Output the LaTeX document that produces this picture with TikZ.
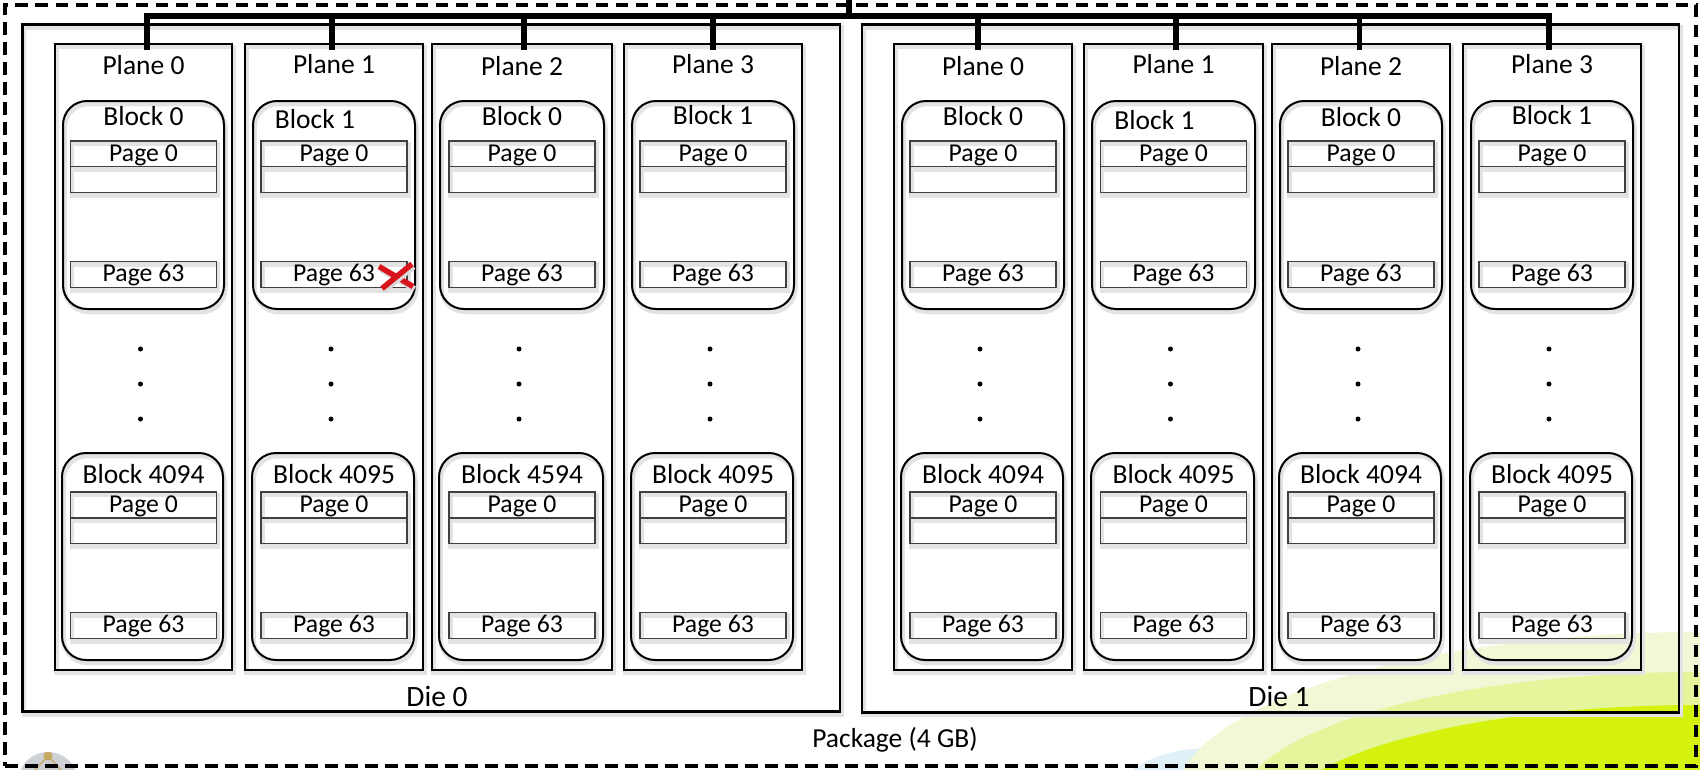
\documentclass[tikz,border=0pt]{standalone}
\usepackage{fontspec}
\setmainfont{Carlito}
\usetikzlibrary{calc}
\definecolor{palebg}{HTML}{F1F8D6}
\definecolor{midbg}{HTML}{E4F59C}
\definecolor{brightbg}{HTML}{D4F20E}
\definecolor{bluebg}{HTML}{E0F1F8}
\definecolor{logogray}{HTML}{CDD1D6}
\definecolor{logotan}{HTML}{C8A860}
\definecolor{xred}{HTML}{D8141C}
\tikzset{
  shd/.style={preaction={draw=black!11, line width=4.5pt, transform canvas={xshift=1.5pt,yshift=-3pt}}},
  pkgbox/.style={draw, line width=3.2pt, dash pattern=on 12.5pt off 7.5pt, anchor=north west, inner sep=0pt, outer sep=0pt},
  diebox/.style={draw, line width=2.8pt, shd, anchor=north west, inner sep=0pt, outer sep=0pt},
  planebox/.style={draw, line width=2.5pt, shd, anchor=north west, inner sep=0pt, outer sep=0pt, minimum height=626pt},
  blockbox/.style={draw, line width=2pt, rounded corners=24pt, shd, anchor=north west, inner sep=0pt, outer sep=0pt, minimum height=208pt},
  pagebox/.style={draw=black!75, line width=1.3pt, shd, inner sep=0pt, outer sep=0pt, minimum width=146pt, minimum height=25.8pt, text height=16.5pt, text depth=2pt, font=\fontsize{25.7pt}{30pt}\selectfont},
  lbl/.style={font=\fontsize{27.5pt}{33pt}\selectfont, anchor=base, inner sep=0pt},
  dielbl/.style={font=\fontsize{29.5pt}{35pt}\selectfont, anchor=base, inner sep=0pt},
  dotn/.style={circle, fill=black, inner sep=0pt, minimum size=5pt},
  bus/.style={line width=5.2pt, line cap=butt},
  redx/.style={draw=xred, line width=5.5pt, preaction={draw=black!15, line width=6pt, transform canvas={xshift=1.5pt,yshift=-2.5pt}}},
}
% #1 id, #2 left, #3 right, #4 plane label, #5 top block, #6 bottom block,
% #7 top-block label xshift, #8 plane label baseline, #9 top-block label baseline
\newcommand\mkplane[9]{%
  \pgfmathsetmacro\pcx{(#2+#3)/2}%
  \pgfmathsetmacro\pw{#3-#2}%
  \pgfmathsetmacro\bw{#3-#2-16}%
  \node[planebox, minimum width=\pw pt] (#1) at (#2,44) {};
  \node[lbl] (#1l) at (\pcx,#8) {#4};
  \node[blockbox, minimum width=\bw pt] (#1tb) at (#2+8,101) {};
  \node[lbl] (#1tbl) at (\pcx+#7,#9) {#5};
  \node[pagebox] (#1t0) at (\pcx,153.8) {Page 0};
  \node[pagebox] (#1te) at (\pcx,179.6) {};
  \node[pagebox] (#1t63) at (\pcx,274.5) {Page 63};
  \node[dotn] (#1da) at (\pcx-3,349) {};
  \node[dotn] (#1db) at (\pcx-3,384) {};
  \node[dotn] (#1dc) at (\pcx-3,419) {};
  \node[blockbox, minimum height=207pt, minimum width=\bw pt] (#1bb) at (#2+7,453) {};
  \node[lbl] (#1bbl) at (\pcx,483) {#6};
  \node[pagebox] (#1b0) at (\pcx,505) {Page 0};
  \node[pagebox] (#1be) at (\pcx,530.8) {};
  \node[pagebox] (#1b63) at (\pcx,625.5) {Page 63};
}
\begin{document}
\begin{tikzpicture}[x=1pt,y=-1pt]
\useasboundingbox (0,0) rectangle (1700,769);
% background decoration
\begin{scope}
  \clip (0,0) rectangle (1700,769);
  \fill[bluebg] (1210,800) ellipse [x radius=95, y radius=52];
  \fill[palebg] (1700,800) ellipse [x radius=525, y radius=168];
  \fill[midbg] (1700,805) ellipse [x radius=460, y radius=133];
  \fill[brightbg] (1700,820) ellipse [x radius=420, y radius=115];
  \fill[logogray] (48,782) circle [radius=30];
  \draw[logotan, line width=1.2pt] (30,775) -- (48,756) -- (66,775);
  \fill[logotan] (48,756) circle [radius=4.5];
\end{scope}
% package and dies
\node[pkgbox, minimum width=1691pt, minimum height=761pt] (pkg) at (5,5) {};
\node[diebox, minimum width=817.3pt, minimum height=687pt] (die0) at (22.7,24.7) {};
\node[diebox, minimum width=817pt, minimum height=687.5pt] (die1) at (862,24.7) {};
% planes of die 0
\mkplane{d0p0}{55}{232}{Plane 0}{Block 0}{Block 4094}{0}{74}{125}
\mkplane{d0p1}{245}{423}{Plane 1}{Block 1}{Block 4095}{-19}{73}{128}
\mkplane{d0p2}{432}{612}{Plane 2}{Block 0}{Block 4594}{0}{75}{125}
\mkplane{d0p3}{624}{802}{Plane 3}{Block 1}{Block 4095}{0}{73}{124}
% planes of die 1
\mkplane{d1p0}{894}{1072}{Plane 0}{Block 0}{Block 4094}{0}{75}{125}
\mkplane{d1p1}{1084}{1263}{Plane 1}{Block 1}{Block 4095}{-19}{73}{129}
\mkplane{d1p2}{1272}{1450}{Plane 2}{Block 0}{Block 4094}{0}{75}{126}
\mkplane{d1p3}{1463}{1641}{Plane 3}{Block 1}{Block 4095}{0}{73}{124}
% labels
\node[dielbl] (die0l) at (437,706) {Die 0};
\node[dielbl] (die1l) at (1279,706.5) {Die 1};
\node[lbl] (pkgl) at (895,747) {Package (4 GB)};
% bus
\coordinate (busin) at (849,0);
\coordinate (bj) at (849,16);
\coordinate (j00) at (147,16);
\coordinate (j01) at (332,16);
\coordinate (j02) at (524,16);
\coordinate (j03) at (713,16);
\coordinate (j10) at (978,16);
\coordinate (j11) at (1176,16);
\coordinate (j12) at (1359.5,16);
\coordinate (j13) at (1549,16);
\draw[bus] ($(j00 |- d0p0.north)+(0,6)$) -- (j00) -- (j13) -- ($(j13 |- d1p3.north)+(0,6)$);
\draw[bus] (busin) -- (bj);
\draw[bus] (j01) -- ($(j01 |- d0p1.north)+(0,6)$);
\draw[bus] (j02) -- ($(j02 |- d0p2.north)+(0,6)$);
\draw[bus] (j03) -- ($(j03 |- d0p3.north)+(0,6)$);
\draw[bus] (j10) -- ($(j10 |- d1p0.north)+(0,6)$);
\draw[bus] (j11) -- ($(j11 |- d1p1.north)+(0,6)$);
\draw[bus] (j12) -- ($(j12 |- d1p2.north)+(0,6)$);
% bad-block mark
\draw[redx] ($(d0p1t63.east)+(-28,-8)$) -- ($(d0p1t63.east)+(6,12)$);
\draw[redx] ($(d0p1t63.east)+(-25,14)$) -- ($(d0p1t63.east)+(5,-10.5)$);
\end{tikzpicture}
\end{document}
